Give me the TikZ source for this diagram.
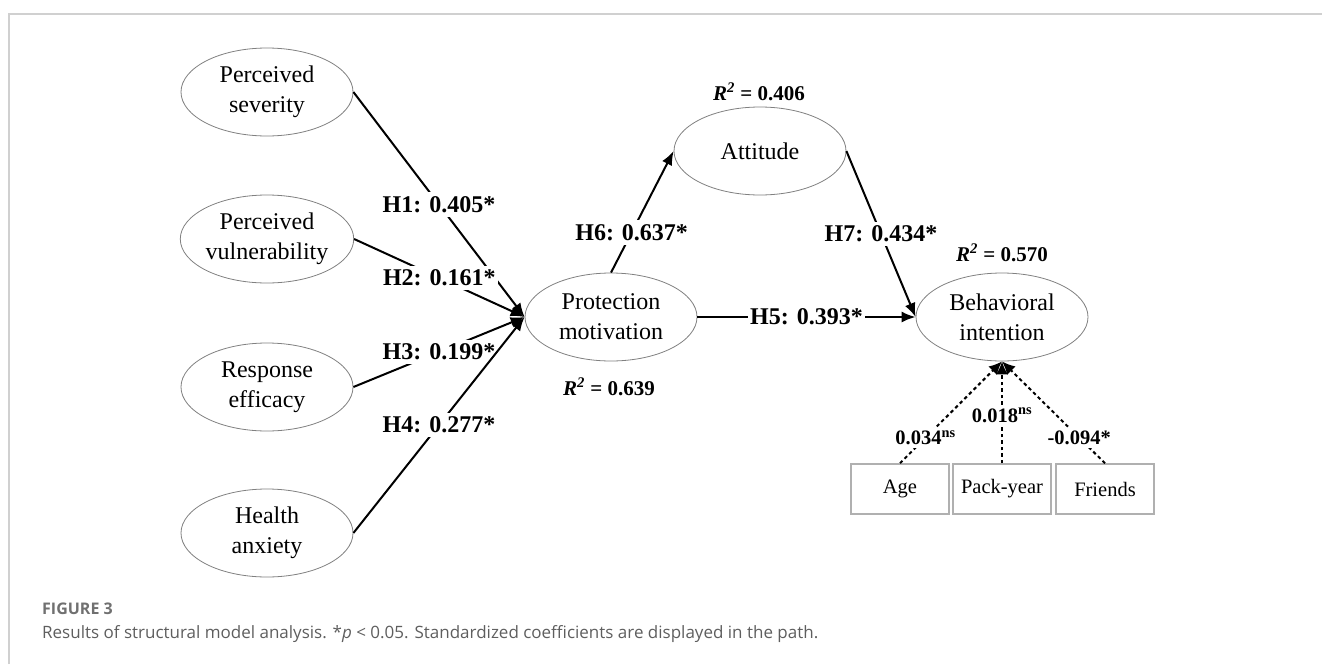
\documentclass[tikz,border=0pt]{standalone}
\usepackage{fontspec}
\setmainfont{Liberation Serif}
\newfontfamily\capfont{Open Sans}
\usetikzlibrary{arrows.meta,shapes.geometric}
\definecolor{ellgray}{HTML}{808080}
\definecolor{boxgray}{HTML}{B0B0B0}
\definecolor{framegray}{HTML}{D0D0D0}
\definecolor{capgray}{HTML}{5E5E5E}
\definecolor{figgray}{HTML}{707070}
\tikzset{
 latent/.style={ellipse, draw=ellgray, line width=0.8pt, minimum width=172pt, minimum height=88pt, inner sep=0pt, align=center, font=\fontsize{24}{30}\selectfont},
 obs/.style={rectangle, draw=boxgray, line width=1.5pt, minimum width=98pt, minimum height=50pt, inner sep=0pt, font=\fontsize{20.5}{24}\selectfont},
 pathline/.style={line width=2pt, -{Latex[length=14pt,width=11pt]}},
 ctrl/.style={line width=2pt, dash pattern=on 3.5pt off 3pt, -{Latex[length=13pt,width=12pt]}},
 coef/.style={fill=white, inner xsep=2pt, inner ysep=4pt, font=\fontsize{24}{28}\selectfont\bfseries},
 ccoef/.style={fill=white, inner sep=3pt, font=\fontsize{20.5}{24}\selectfont\bfseries},
 rsq/.style={inner sep=0pt, font=\fontsize{21}{24}\selectfont\bfseries},
}
\begin{document}
\begin{tikzpicture}[x=1pt,y=-1pt]
\useasboundingbox (0,0) rectangle (1322,664);
\draw[framegray, line width=1.5pt] (9,664) -- (9,14) -- (1322,14);

\node[latent] (PS) at (267,92) {Perceived\\severity};
\node[latent] (PV) at (267,239) {Perceived\\vulnerability};
\node[latent] (RE) at (267,387) {Response\\efficacy};
\node[latent] (HA) at (267,533) {Health\\anxiety};
\node[latent] (PM) at (611,317) {Protection\\motivation};
\node[latent] (AT) at (760,151) {Attitude};
\node[latent] (BI) at (1002,317) {Behavioral\\intention};

\node[obs] (AG) at (900,489) {Age};
\node[obs] (PY) at (1002,489) {Pack-year};
\node[obs] (FR) at (1105,489) {Friends};

\node[rsq] (r1) at (759,92) {\textit{R}\textsuperscript{\textit{2}} = 0.406};
\node[rsq] (r2) at (1002,253) {\textit{R}\textsuperscript{\textit{2}} = 0.570};
\node[rsq] (r3) at (609,387) {\textit{R}\textsuperscript{\textit{2}} = 0.639};

\draw[pathline] (PS.east) -- node[coef]{H1: 0.405*} (PM.west);
\draw[pathline] (PV.east) -- node[coef]{H2: 0.161*} (PM.west);
\draw[pathline] (RE.east) -- node[coef]{H3: 0.199*} (PM.west);
\draw[pathline] (HA.east) -- node[coef]{H4: 0.277*} (PM.west);
\draw[pathline] (PM.north) -- node[coef,pos=0.33]{H6: 0.637*} (AT.west);
\draw[pathline] (AT.east) -- node[coef]{H7: 0.434*} (BI.west);
\draw[pathline] (PM.east) -- node[coef]{H5: 0.393*} (BI.west);

\draw[ctrl] (AG.north) -- node[ccoef,pos=0.25]{0.034\textsuperscript{ns}} (BI.south);
\draw[ctrl] (PY.north) -- node[ccoef,pos=0.47]{0.018\textsuperscript{ns}} (BI.south);
\draw[ctrl] (FR.north) -- node[ccoef,pos=0.25]{-0.094*} (BI.south);

\node[anchor=west, inner sep=0pt, text=figgray, font=\capfont\bfseries\fontsize{16}{19}\selectfont] (fig) at (42,609) {FIGURE 3};
\node[anchor=west, inner sep=0pt, text=capgray, font=\capfont\fontsize{17}{20}\selectfont] (cap) at (42,634) {Results of structural model analysis. *\textit{p} {\textless} 0.05. Standardized coefficients are displayed in the path.};
\end{tikzpicture}
\end{document}
